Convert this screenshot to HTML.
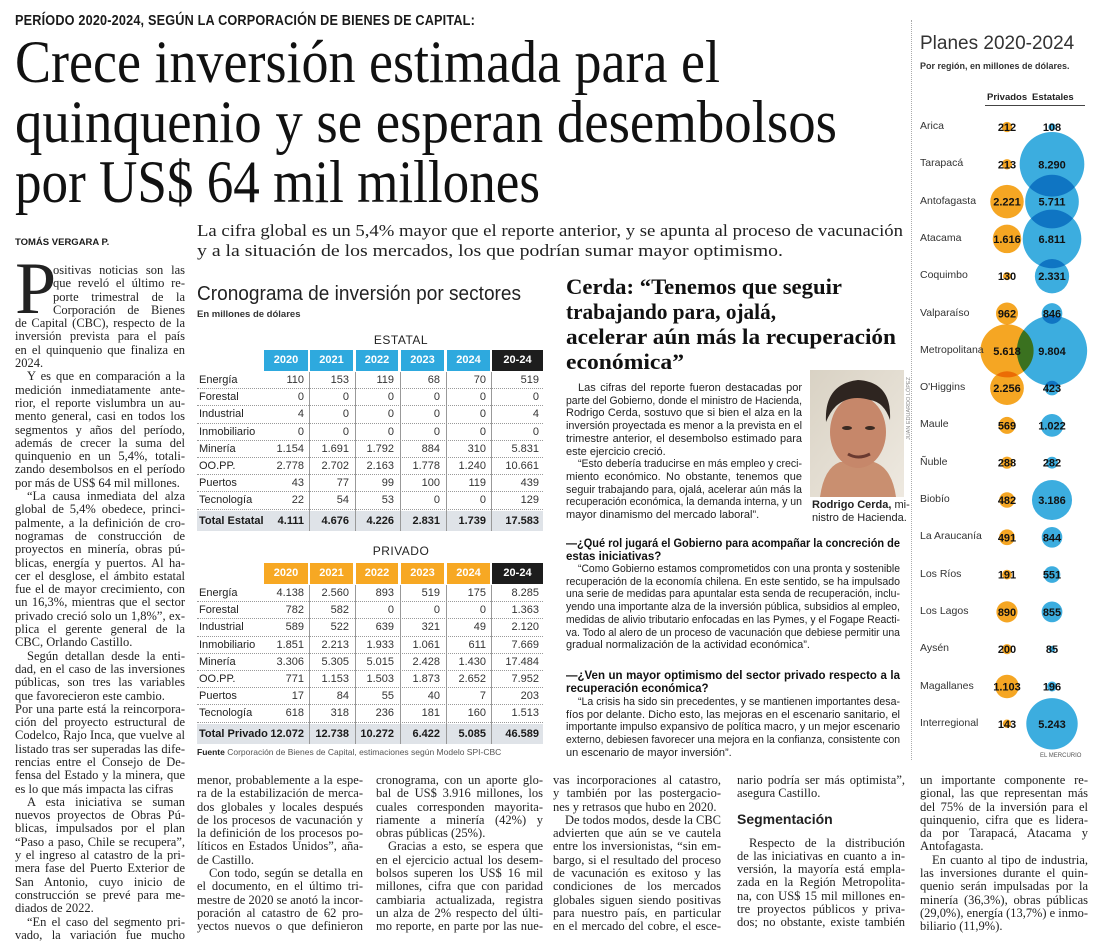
<!DOCTYPE html>
<html><head><meta charset="utf-8">
<style>
*{margin:0;padding:0;box-sizing:border-box}
body{width:1100px;height:950px;background:#fff;position:relative;overflow:hidden;font-family:"Liberation Sans",sans-serif;color:#1a1a1a}
.abs{position:absolute}
.serif{font-family:"Liberation Serif",serif}
.col .l{white-space:nowrap;text-align:justify;text-align-last:justify;overflow:visible}
.col .l.e{text-align-last:left}
.col .l.i{padding-left:12px}
.lc{font-family:"Liberation Serif",serif;font-size:12.5px;line-height:13.3px;color:#222}
.cb{font-size:11px;line-height:12.7px;color:#222}
.cq{font-size:11.5px;line-height:12.7px;font-weight:bold;color:#111}
</style></head><body>

<div class="abs" style="left:15px;top:13px;font-size:14.5px;font-weight:bold;letter-spacing:0.2px;"><span class="fitw" data-w="460" style="white-space:nowrap">PERÍODO 2020-2024, SEGÚN LA CORPORACIÓN DE BIENES DE CAPITAL:</span></div>

<div class="abs serif" style="left:15px;top:32px;font-size:60px;line-height:60px;color:#111">
<div class="fitw" data-w="705" style="white-space:nowrap">Crece inversión estimada para el</div>
<div class="fitw" data-w="822" style="white-space:nowrap">quinquenio y se esperan desembolsos</div>
<div class="fitw" data-w="525" style="white-space:nowrap">por US$ 64 mil millones</div>
</div>

<div class="abs" style="left:15px;top:237px;font-size:9.5px;font-weight:bold;">TOMÁS VERGARA P.</div>

<div class="abs serif" style="left:197px;top:221px;font-size:17px;line-height:20px;color:#222">
<div class="fitw" data-w="706" style="white-space:nowrap">La cifra global es un 5,4% mayor que el reporte anterior, y se apunta al proceso de vacunación</div>
<div class="fitw" data-w="586" style="white-space:nowrap">y a la situación de los mercados, los que podrían sumar mayor optimismo.</div>
</div>

<!-- left column -->
<div class="abs col lc" style="left:15px;top:264px;width:170px;">
<div class="abs serif" style="left:0;top:-5px;font-size:74px;line-height:60px;">P</div>
<div class="l" style="margin-left:38px">ositivas noticias son las</div>
<div class="l" style="margin-left:38px">que reveló el último re-</div>
<div class="l" style="margin-left:38px">porte trimestral de la</div>
<div class="l" style="margin-left:38px">Corporación de Bienes</div>
<div class="l">de Capital (CBC), respecto de la</div>
<div class="l">inversión prevista para el país</div>
<div class="l">en el quinquenio que finaliza en</div>
<div class="l e">2024.</div>
<div class="l i">Y es que en comparación a la</div>
<div class="l">medición inmediatamente ante-</div>
<div class="l">rior, el reporte vislumbra un au-</div>
<div class="l">mento general, casi en todos los</div>
<div class="l">segmentos y años del período,</div>
<div class="l">además de crecer la suma del</div>
<div class="l">quinquenio en un 5,4%, totali-</div>
<div class="l">zando desembolsos en el período</div>
<div class="l e">por más de US$ 64 mil millones.</div>
<div class="l i">“La causa inmediata del alza</div>
<div class="l">global de 5,4% obedece, princi-</div>
<div class="l">palmente, a la definición de cro-</div>
<div class="l">nogramas de construcción de</div>
<div class="l">proyectos en minería, obras pú-</div>
<div class="l">blicas, energía y puertos. Al ha-</div>
<div class="l">cer el desglose, el ámbito estatal</div>
<div class="l">fue el de mayor crecimiento, con</div>
<div class="l">un 16,3%, mientras que el sector</div>
<div class="l">privado creció solo un 1,8%”, ex-</div>
<div class="l">plica el gerente general de la</div>
<div class="l e">CBC, Orlando Castillo.</div>
<div class="l i">Según detallan desde la enti-</div>
<div class="l">dad, en el caso de las inversiones</div>
<div class="l">públicas, son tres las variables</div>
<div class="l e">que favorecieron este cambio.</div>
<div class="l">Por una parte está la reincorpora-</div>
<div class="l">ción del proyecto estructural de</div>
<div class="l">Codelco, Rajo Inca, que vuelve al</div>
<div class="l">listado tras ser superadas las dife-</div>
<div class="l">rencias entre el Consejo de De-</div>
<div class="l">fensa del Estado y la minera, que</div>
<div class="l e">es lo que más impacta las cifras</div>
<div class="l i">A esta iniciativa se suman</div>
<div class="l">nuevos proyectos de Obras Pú-</div>
<div class="l">blicas, impulsados por el plan</div>
<div class="l">“Paso a paso, Chile se recupera”,</div>
<div class="l">y el ingreso al catastro de la pri-</div>
<div class="l">mera fase del Puerto Exterior de</div>
<div class="l">San Antonio, cuyo inicio de</div>
<div class="l">construcción se prevé para me-</div>
<div class="l e">diados de 2022.</div>
<div class="l i">“En el caso del segmento pri-</div>
<div class="l">vado, la variación fue mucho</div>
</div>

<!-- tables -->
<div class="abs" style="left:197px;top:283px;font-size:20px;color:#222;white-space:nowrap"><span class="fitw" data-w="324" style="display:inline-block">Cronograma de inversión por sectores</span></div>
<div class="abs" style="left:197px;top:309px;font-size:9.5px;font-weight:bold;color:#333">En millones de dólares</div>
<div class="abs" style="left:356px;top:333px;width:90px;text-align:center;font-size:12px;letter-spacing:0.5px;color:#222">ESTATAL</div>
<div class="abs" style="left:356px;top:544px;width:90px;text-align:center;font-size:12px;letter-spacing:0.5px;color:#222">PRIVADO</div>
<div id="tables"></div>
<div class="abs" style="left:197px;top:747px;font-size:8.5px;color:#555;white-space:nowrap"><b style="color:#222">Fuente</b> Corporación de Bienes de Capital, estimaciones según Modelo SPI-CBC</div>

<!-- Cerda article -->
<div class="abs serif" style="left:566px;top:274px;font-size:22px;line-height:25px;font-weight:bold;color:#111">
<div class="fitw" data-w="276" style="white-space:nowrap">Cerda: “Tenemos que seguir</div>
<div class="fitw" data-w="210" style="white-space:nowrap">trabajando para, ojalá,</div>
<div class="fitw" data-w="330" style="white-space:nowrap">acelerar aún más la recuperación</div>
<div class="fitw" data-w="118" style="white-space:nowrap">económica”</div>
</div>
<div class="abs col cb" style="left:566px;top:382px;width:236px">
<div class="l i">Las cifras del reporte fueron destacadas por</div>
<div class="l">parte del Gobierno, donde el ministro de Hacienda,</div>
<div class="l">Rodrigo Cerda, sostuvo que si bien el alza en la</div>
<div class="l">inversión proyectada es menor a la prevista en el</div>
<div class="l">trimestre anterior, el desembolso estimado para</div>
<div class="l e">este ejercicio creció.</div>
<div class="l i">“Esto debería traducirse en más empleo y creci-</div>
<div class="l">miento económico. No obstante, tenemos que</div>
<div class="l">seguir trabajando para, ojalá, acelerar aún más la</div>
<div class="l">recuperación económica, la demanda interna, y un</div>
<div class="l e">mayor dinamismo del mercado laboral”.</div>
</div>
<svg class="abs" style="left:810px;top:370px" width="94" height="127" viewBox="0 0 94 127">
<defs><linearGradient id="bg" x1="0" y1="0" x2="1" y2="1"><stop offset="0" stop-color="#d9d2c4"/><stop offset="1" stop-color="#eee9e0"/></linearGradient></defs>
<rect width="94" height="127" fill="url(#bg)"/>
<path d="M10 127 Q14 98 30 92 L64 92 Q82 98 86 127Z" fill="#c98f70"/>
<ellipse cx="48" cy="62" rx="28" ry="36" fill="#c6876a"/>
<path d="M16 52 Q14 14 48 10 Q82 12 80 50 Q74 32 60 30 Q40 24 26 36 Q20 42 16 52Z" fill="#2e2520"/>
<ellipse cx="37" cy="58" rx="5" ry="2" fill="#3a2a22"/><ellipse cx="60" cy="58" rx="5" ry="2" fill="#3a2a22"/>
<path d="M38 84 Q48 90 60 84" stroke="#6a3a30" stroke-width="3" fill="none"/>
</svg>
<div class="abs" style="left:906px;top:440px;font-size:5.5px;color:#888;transform:rotate(-90deg);transform-origin:left top;white-space:nowrap">JUAN EDUARDO LÓPEZ</div>
<div class="abs" style="left:812px;top:499px;font-size:11px;line-height:13px;color:#222;white-space:nowrap"><b>Rodrigo Cerda,</b> mi-<br>nistro de Hacienda.</div>

<div class="abs col cq" style="left:566px;top:538px;width:334px">
<div class="l">—¿Qué rol jugará el Gobierno para acompañar la concreción de</div>
<div class="l e">estas iniciativas?</div>
</div>
<div class="abs col cb" style="left:566px;top:563px;width:334px">
<div class="l i">“Como Gobierno estamos comprometidos con una pronta y sostenible</div>
<div class="l">recuperación de la economía chilena. En este sentido, se ha impulsado</div>
<div class="l">una serie de medidas para apuntalar esta senda de recuperación, inclu-</div>
<div class="l">yendo una importante alza de la inversión pública, subsidios al empleo,</div>
<div class="l">medidas de alivio tributario enfocadas en las Pymes, y el Fogape Reacti-</div>
<div class="l">va. Todo al alero de un proceso de vacunación que debiese permitir una</div>
<div class="l e">gradual normalización de la actividad económica”.</div>
</div>
<div class="abs col cq" style="left:566px;top:670px;width:334px">
<div class="l">—¿Ven un mayor optimismo del sector privado respecto a la</div>
<div class="l e">recuperación económica?</div>
</div>
<div class="abs col cb" style="left:566px;top:696px;width:334px">
<div class="l i">“La crisis ha sido sin precedentes, y se mantienen importantes desa-</div>
<div class="l">fíos por delante. Dicho esto, las mejoras en el escenario sanitario, el</div>
<div class="l">importante impulso expansivo de política macro, y un mejor escenario</div>
<div class="l">externo, debiesen favorecer una mejora en la confianza, consistente con</div>
<div class="l e">un escenario de mayor inversión”.</div>
</div>

<!-- bottom columns -->
<div class="abs col lc" style="left:197px;top:774px;width:166px">
<div class="l">menor, probablemente a la espe-</div>
<div class="l">ra de la estabilización de merca-</div>
<div class="l">dos globales y locales después</div>
<div class="l">de los procesos de vacunación y</div>
<div class="l">la definición de los procesos po-</div>
<div class="l">líticos en Estados Unidos”, aña-</div>
<div class="l e">de Castillo.</div>
<div class="l i">Con todo, según se detalla en</div>
<div class="l">el documento, en el último tri-</div>
<div class="l">mestre de 2020 se anotó la incor-</div>
<div class="l">poración al catastro de 62 pro-</div>
<div class="l">yectos nuevos o que definieron</div>
</div>
<div class="abs col lc" style="left:376px;top:774px;width:167px">
<div class="l">cronograma, con un aporte glo-</div>
<div class="l">bal de US$ 3.916 millones, los</div>
<div class="l">cuales corresponden mayorita-</div>
<div class="l">riamente a minería (42%) y</div>
<div class="l e">obras públicas (25%).</div>
<div class="l i">Gracias a esto, se espera que</div>
<div class="l">en el ejercicio actual los desem-</div>
<div class="l">bolsos superen los US$ 16 mil</div>
<div class="l">millones, cifra que con paridad</div>
<div class="l">cambiaria actualizada, registra</div>
<div class="l">un alza de 2% respecto del últi-</div>
<div class="l">mo reporte, en parte por las nue-</div>
</div>
<div class="abs col lc" style="left:553px;top:774px;width:168px">
<div class="l">vas incorporaciones al catastro,</div>
<div class="l">y también por las postergacio-</div>
<div class="l e">nes y retrasos que hubo en 2020.</div>
<div class="l i">De todos modos, desde la CBC</div>
<div class="l">advierten que aún se ve cautela</div>
<div class="l">entre los inversionistas, “sin em-</div>
<div class="l">bargo, si el resultado del proceso</div>
<div class="l">de vacunación es exitoso y las</div>
<div class="l">condiciones de los mercados</div>
<div class="l">globales siguen siendo positivas</div>
<div class="l">para nuestro país, en particular</div>
<div class="l">en el mercado del cobre, el esce-</div>
</div>
<div class="abs col lc" style="left:737px;top:774px;width:168px">
<div class="l">nario podría ser más optimista”,</div>
<div class="l e">asegura Castillo.</div>
<div style="height:9px"></div>
<div style="font-family:'Liberation Sans',sans-serif;font-weight:bold;font-size:14px;line-height:18px">Segmentación</div>
<div style="height:9px"></div>
<div class="l i">Respecto de la distribución</div>
<div class="l">de las iniciativas en cuanto a in-</div>
<div class="l">versión, la mayoría está empla-</div>
<div class="l">zada en la Región Metropolita-</div>
<div class="l">na, con US$ 15 mil millones en-</div>
<div class="l">tre proyectos públicos y priva-</div>
<div class="l">dos; no obstante, existe también</div>
</div>
<div class="abs col lc" style="left:920px;top:774px;width:168px">
<div class="l">un importante componente re-</div>
<div class="l">gional, las que representan más</div>
<div class="l">del 75% de la inversión para el</div>
<div class="l">quinquenio, cifra que es lidera-</div>
<div class="l">da por Tarapacá, Atacama y</div>
<div class="l e">Antofagasta.</div>
<div class="l i">En cuanto al tipo de industria,</div>
<div class="l">las inversiones durante el quin-</div>
<div class="l">quenio serán impulsadas por la</div>
<div class="l">minería (36,3%), obras públicas</div>
<div class="l">(29,0%), energía (13,7%) e inmo-</div>
<div class="l e">biliario (11,9%).</div>
</div>

<!-- right bubble chart -->
<div class="abs" style="left:911px;top:20px;width:0;height:740px;border-left:1px dotted #aaa"></div>
<div class="abs" style="left:920px;top:33px;font-size:19px;color:#333;white-space:nowrap">Planes 2020-2024</div>
<div class="abs" style="left:920px;top:61px;font-size:9px;font-weight:bold;color:#333;white-space:nowrap">Por región, en millones de dólares.</div>
<div class="abs" style="left:987px;top:92px;font-size:9.5px;font-weight:bold;color:#222">Privados</div>
<div class="abs" style="left:1032px;top:92px;font-size:9.5px;font-weight:bold;color:#222">Estatales</div>
<div class="abs" style="left:985px;top:105px;width:100px;height:1px;background:#444"></div>
<svg id="bub" class="abs" style="left:0;top:0" width="1100" height="950"></svg>
<div class="abs" style="left:1040px;top:753px;font-size:6px;color:#555">EL MERCURIO</div>

<script>
// ---------- bubble chart data ----------
const regions = ["Arica","Tarapacá","Antofagasta","Atacama","Coquimbo","Valparaíso","Metropolitana","O'Higgins","Maule","Ñuble","Biobío","La Araucanía","Los Ríos","Los Lagos","Aysén","Magallanes","Interregional"];
const privados = [212,213,2221,1616,130,962,5618,2256,569,288,482,491,191,890,200,1103,143];
const estatales = [108,8290,5711,6811,2331,846,9804,423,1022,282,3186,844,551,855,85,196,5243];

// ---------- table data ----------
const years = ["2020","2021","2022","2023","2024","20-24"];
const sectors = ["Energía","Forestal","Industrial","Inmobiliario","Minería","OO.PP.","Puertos","Tecnología"];
const estatalVals = [
 [110,153,119,68,70,519],[0,0,0,0,0,0],[4,0,0,0,0,4],[0,0,0,0,0,0],
 [1154,1691,1792,884,310,5831],[2778,2702,2163,1778,1240,10661],[43,77,99,100,119,439],[22,54,53,0,0,129]];
const estatalTotal = [4111,4676,4226,2831,1739,17583];
const privadoVals = [
 [4138,2560,893,519,175,8285],[782,582,0,0,0,1363],[589,522,639,321,49,2120],[1851,2213,1933,1061,611,7669],
 [3306,5305,5015,2428,1430,17484],[771,1153,1503,1873,2652,7952],[17,84,55,40,7,203],[618,318,236,181,160,1513]];
const privadoTotal = [12072,12738,10272,6422,5085,46589];

function fmt(v){return v.toString().replace(/\B(?=(\d{3})+(?!\d))/g,".");}

const NS="http://www.w3.org/2000/svg";
const svg=document.getElementById('bub');
const rowY=i=>127+i*37.3;
const rScale=v=>0.355*Math.sqrt(v);
const xP=1007, xE=1052;
regions.forEach((r,i)=>{
  const lab=document.createElement('div');
  lab.className='abs';
  
  
  lab.style.cssText=`left:920px;top:${rowY(i)-7}px;font-size:10.5px;color:#333;white-space:nowrap`;
  lab.textContent=r;
  document.body.appendChild(lab);
});
regions.forEach((r,i)=>{
  const c=document.createElementNS(NS,'circle');
  c.setAttribute('cx',xP);c.setAttribute('cy',rowY(i));c.setAttribute('r',rScale(privados[i]));
  c.setAttribute('fill','#f5a623');c.setAttribute('style','mix-blend-mode:multiply');
  
  
  svg.appendChild(c);
});
regions.forEach((r,i)=>{
  const c=document.createElementNS(NS,'circle');
  c.setAttribute('cx',xE);c.setAttribute('cy',rowY(i));c.setAttribute('r',rScale(estatales[i]));
  c.setAttribute('fill','#2ba6dc');c.setAttribute('fill-opacity','0.92');c.setAttribute('style','mix-blend-mode:multiply');
  
  
  svg.appendChild(c);
});
regions.forEach((r,i)=>{
  [[xP,privados[i]],[xE,estatales[i]]].forEach(([x,v])=>{
    const t=document.createElementNS(NS,'text');
    t.setAttribute('x',x);t.setAttribute('y',rowY(i)+4);t.setAttribute('text-anchor','middle');
    t.setAttribute('font-family','Liberation Sans, sans-serif');t.setAttribute('font-size','11');t.setAttribute('font-weight','bold');t.setAttribute('fill','#111');
    
    
    t.textContent=fmt(v);
    svg.appendChild(t);
  });
});

const colX=[264,310,356,401,447,492], colW=[44,43,42,43,43,51];
const tHost=document.getElementById('tables');
function buildTable(top,color,vals,total,totalLabel,name){
  const g=document.createElement('div');
  g.className='abs';g.style.cssText=`left:0;top:0`;
  
  
  years.forEach((y,j)=>{
    const h=document.createElement('div');
    h.className='abs';
    
    
    h.style.cssText=`left:${colX[j]}px;top:${top}px;width:${colW[j]}px;height:21px;background:${j==5?'#1d1d1d':color};color:#fff;font-weight:bold;font-size:11px;line-height:21px;text-align:center`;
    h.textContent=y;g.appendChild(h);
  });
  const rh=17.2, r0=top+22;
  for(let j=1;j<6;j++){
    const v=document.createElement('div');v.className='abs';
    v.style.cssText=`left:${colX[j]-1}px;top:${r0}px;width:1px;height:${rh*8+20}px;background:#999`;
    g.appendChild(v);
  }
  sectors.forEach((s,i)=>{
    const y=r0+i*rh;
    const ln=document.createElement('div');ln.className='abs';
    ln.style.cssText=`left:197px;top:${y+rh-1}px;width:346px;border-top:1px dotted #999`;
    g.appendChild(ln);
    const lab=document.createElement('div');lab.className='abs';
    
    
    lab.style.cssText=`left:199px;top:${y}px;font-size:11px;line-height:${rh}px;color:#222`;
    lab.textContent=s;g.appendChild(lab);
    vals[i].forEach((v,j)=>{
      const c=document.createElement('div');c.className='abs';
      
      
      c.style.cssText=`left:${colX[j]}px;top:${y}px;width:${colW[j]-4}px;text-align:right;font-size:11px;line-height:${rh}px;color:#333`;
      c.textContent=fmt(v);g.appendChild(c);
    });
  });
  const ty=r0+8*rh+1;
  const tb=document.createElement('div');tb.className='abs';
  
  
  tb.style.cssText=`left:197px;top:${ty}px;width:346px;height:20px;background:#dfe3e8`;
  g.appendChild(tb);
  for(let j=1;j<6;j++){
    const v=document.createElement('div');v.className='abs';
    v.style.cssText=`left:${colX[j]-1}px;top:${ty}px;width:1px;height:20px;background:#999`;
    g.appendChild(v);
  }
  const tl=document.createElement('div');tl.className='abs';
  
  
  tl.style.cssText=`left:199px;top:${ty}px;font-size:11px;font-weight:bold;line-height:20px;white-space:nowrap`;
  tl.textContent=totalLabel;g.appendChild(tl);
  total.forEach((v,j)=>{
    const c=document.createElement('div');c.className='abs';
    
    
    c.style.cssText=`left:${colX[j]}px;top:${ty}px;width:${colW[j]-4}px;text-align:right;font-size:11px;font-weight:bold;line-height:20px`;
    c.textContent=fmt(v);g.appendChild(c);
  });
  tHost.appendChild(g);
}
buildTable(350,'#2ea9de',estatalVals,estatalTotal,'Total Estatal','table-estatal');
buildTable(563,'#f7a823',privadoVals,privadoTotal,'Total Privado','table-privado');

document.querySelectorAll('.fitw').forEach(el=>{
  el.style.display='inline-block';
  const w=el.getBoundingClientRect().width, t=+el.dataset.w;
  el.style.transformOrigin='left top';
  el.style.transform=`scaleX(${t/w})`;
  el.style.display='block';el.style.width=w+'px';
});
document.querySelectorAll('.col .l').forEach(el=>{
  const sp=document.createElement('span');
  while(el.firstChild)sp.appendChild(el.firstChild);
  el.appendChild(sp);
  const cs=getComputedStyle(el);
  const avail=el.clientWidth-parseFloat(cs.paddingLeft)-parseFloat(cs.paddingRight);
  const w=sp.getBoundingClientRect().width;
  if(w>avail){
    el.style.textAlignLast='left';
    sp.style.display='inline-block';
    sp.style.transformOrigin='left center';
    sp.style.transform=`scaleX(${avail/w})`;
  }
});
</script>
</body></html>
